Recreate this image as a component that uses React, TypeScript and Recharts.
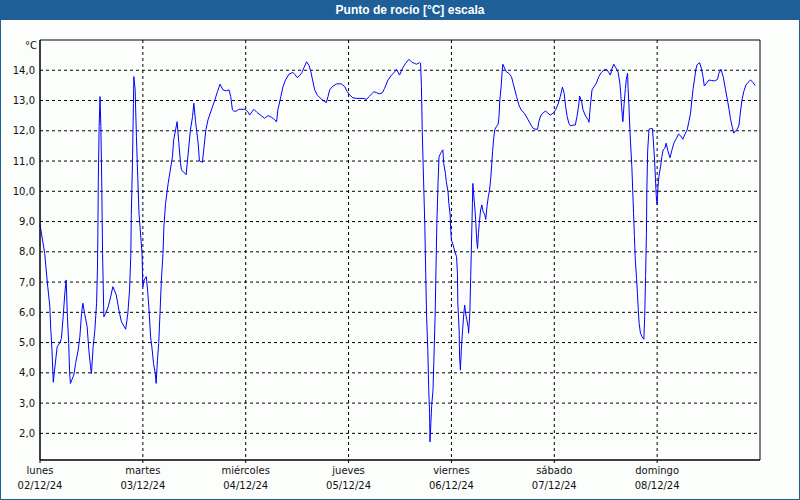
import { LineChart, Line, XAxis, YAxis, CartesianGrid, ReferenceArea } from "recharts";

const diasSemana = ["lunes", "martes", "miércoles", "jueves", "viernes", "sábado", "domingo"];
const fechas = ["02/12/24", "03/12/24", "04/12/24", "05/12/24", "06/12/24", "07/12/24", "08/12/24"];
const xTicks = [0, 24, 48, 72, 96, 120, 144];
const yTicks = [2, 3, 4, 5, 6, 7, 8, 9, 10, 11, 12, 13, 14];

// [hora del día, punto de rocío °C]
const lunes: [number, number][] = [
  [0, 8.9], [1.1, 7.95], [1.7, 7.0], [2.3, 6.18], [2.5, 5.48], [2.8, 4.75], [3.0, 4.04], [3.1, 3.69],
  [3.4, 4.09], [4.0, 4.86], [4.6, 4.98], [5.0, 5.14], [5.4, 5.85], [5.8, 6.64], [6.1, 7.07], [6.4, 5.85],
  [6.7, 4.97], [6.9, 4.04], [7.1, 3.65], [7.9, 3.93], [8.3, 4.31], [8.9, 4.75], [9.3, 5.19], [9.7, 5.97],
  [10.0, 6.3], [10.4, 5.97], [11.0, 5.52], [11.4, 4.75], [11.8, 4.2], [12.0, 3.98], [12.4, 4.86], [12.8, 5.41],
  [13.2, 6.3], [13.4, 7.4], [13.5, 8.5], [13.6, 10.3], [13.8, 12.14], [14.0, 13.13], [14.2, 12.14], [14.4, 10.37],
  [14.6, 7.95], [14.9, 5.85], [15.3, 5.97], [15.9, 6.18], [16.5, 6.52], [17.0, 6.85], [17.8, 6.57], [18.4, 6.08],
  [19.0, 5.69], [20.0, 5.44], [20.5, 5.97], [20.9, 6.74], [21.2, 7.95], [21.3, 9.2], [21.6, 11.14], [21.8, 12.9],
  [21.9, 13.79], [22.2, 13.35], [22.5, 11.8], [22.7, 10.92], [23.1, 9.27], [23.4, 8.72], [23.8, 7.95],
];
const martes: [number, number][] = [
  [0.0, 6.85], [0.3, 7.07], [0.8, 7.18], [1.1, 6.74], [1.4, 6.18], [1.8, 5.19], [2.1, 4.86], [2.5, 4.31],
  [2.9, 3.98], [3.1, 3.65], [3.4, 4.42], [3.7, 4.97], [4.0, 5.97], [4.3, 7.01], [4.7, 7.95], [4.9, 8.8],
  [5.3, 9.6], [5.9, 10.26], [6.4, 10.7], [6.9, 11.14], [7.2, 11.7], [7.7, 12.08], [8.0, 12.3], [8.4, 11.59],
  [8.8, 10.92], [9.0, 10.7], [9.8, 10.6], [10.1, 10.55], [10.5, 11.14], [11.1, 12.03], [11.6, 12.47], [11.9, 12.91],
  [12.3, 12.3], [12.9, 11.59], [13.2, 11.0], [13.9, 10.96], [14.2, 11.37], [14.7, 12.03], [15.2, 12.36], [16.0, 12.69],
  [16.8, 13.02], [17.4, 13.29], [18.0, 13.54], [18.7, 13.35], [19.5, 13.32], [20.1, 13.35], [20.5, 13.13], [20.9, 12.69],
  [21.2, 12.65], [21.8, 12.65], [22.4, 12.71], [23.8, 12.71],
];
const miercoles: [number, number][] = [
  [0.5, 12.63], [0.9, 12.52], [1.9, 12.71], [2.6, 12.61], [3.7, 12.49], [4.4, 12.41], [5.2, 12.5], [6.0, 12.45],
  [6.8, 12.36], [7.2, 12.29], [7.5, 12.69], [8.2, 13.13], [8.7, 13.46], [9.3, 13.68], [10.1, 13.87], [11.0, 13.93],
  [11.4, 13.87], [12.0, 13.76], [12.6, 13.83], [13.1, 13.92], [13.6, 14.09], [14.2, 14.28], [14.8, 14.15], [15.2, 13.95],
  [15.6, 13.68], [16.1, 13.35], [16.7, 13.18], [17.7, 13.04], [18.8, 12.93], [19.2, 13.13], [19.6, 13.35], [20.2, 13.46],
  [21.2, 13.55], [22.3, 13.55], [23.1, 13.46], [23.7, 13.29],
];
const jueves: [number, number][] = [
  [0.3, 13.18], [1.0, 13.09], [1.8, 13.07], [3.4, 13.07], [4.2, 13.04], [4.8, 13.13], [5.3, 13.21], [5.9, 13.29],
  [6.5, 13.26], [7.3, 13.22], [7.9, 13.26], [8.4, 13.4], [9.2, 13.68], [10.0, 13.84], [10.8, 13.95], [11.2, 14.03],
  [11.9, 13.84], [12.6, 14.07], [13.3, 14.23], [14.1, 14.36], [14.8, 14.26], [15.4, 14.23], [15.8, 14.2], [16.6, 14.25],
  [16.8, 14.23], [17.0, 13.46], [17.2, 11.92], [17.5, 10.37], [17.8, 8.83], [18.0, 7.29], [18.2, 5.91], [18.5, 4.7],
  [18.7, 3.49], [18.9, 2.66], [19.0, 1.72], [19.2, 2.33], [19.4, 2.93], [19.7, 3.43], [19.9, 4.42], [20.2, 5.91],
  [20.4, 7.45], [20.6, 8.94], [20.9, 10.37], [21.1, 11.14], [21.5, 11.26], [22.0, 11.37], [22.2, 10.92], [22.6, 10.59],
  [22.8, 10.32], [23.2, 9.99], [23.4, 9.6], [23.7, 9.22], [23.8, 8.83],
];
const viernes: [number, number][] = [
  [0.0, 8.39], [0.4, 8.22], [0.8, 8.0], [1.2, 7.84], [1.4, 7.29], [1.5, 6.3], [1.8, 5.41], [1.9, 4.53],
  [2.1, 4.09], [2.3, 4.75], [2.6, 5.41], [2.9, 5.97], [3.1, 6.24], [3.3, 5.97], [3.6, 5.75], [3.9, 5.52],
  [4.0, 5.31], [4.3, 5.97], [4.5, 7.18], [4.7, 8.39], [4.9, 9.6], [5.0, 10.26], [5.3, 9.71], [5.5, 9.38],
  [5.7, 8.94], [5.9, 8.39], [6.1, 8.11], [6.3, 8.61], [6.5, 8.94], [6.8, 9.38], [7.1, 9.55], [7.4, 9.33],
  [7.8, 9.22], [8.0, 9.07], [8.3, 9.49], [8.6, 9.82], [8.9, 10.04], [9.2, 10.48], [9.4, 10.87], [9.6, 11.31],
  [9.9, 11.8], [10.1, 12.03], [10.5, 12.14], [10.9, 12.22], [11.1, 12.47], [11.3, 13.02], [11.6, 13.46], [11.8, 13.9],
  [12.0, 14.2], [12.4, 14.07], [12.8, 13.95], [13.4, 13.9], [14.0, 13.79], [14.4, 13.57], [14.8, 13.35], [15.2, 13.13],
  [15.8, 12.82], [16.3, 12.69], [17.1, 12.56], [17.9, 12.36], [18.7, 12.16], [19.2, 12.06], [20.1, 12.05], [20.4, 12.3],
  [20.8, 12.49], [21.4, 12.6], [22.0, 12.65], [22.5, 12.58], [23.1, 12.52], [23.7, 12.58],
];
const sabado: [number, number][] = [
  [0.3, 12.69], [0.9, 12.89], [1.4, 13.13], [1.9, 13.44], [2.3, 13.24], [2.6, 12.85], [3.0, 12.47], [3.4, 12.25],
  [3.8, 12.16], [4.4, 12.19], [4.9, 12.19], [5.3, 12.47], [5.7, 12.85], [5.9, 13.15], [6.4, 12.96], [6.7, 12.69],
  [7.3, 12.49], [7.9, 12.36], [8.1, 12.28], [8.4, 12.8], [8.8, 13.35], [9.3, 13.46], [9.8, 13.57], [10.4, 13.79],
  [11.0, 13.93], [11.6, 14.01], [12.2, 14.03], [12.7, 13.93], [13.1, 13.84], [13.5, 14.07], [13.9, 14.2], [14.3, 14.1],
  [14.9, 13.93], [15.3, 13.57], [15.5, 13.24], [15.7, 12.8], [16.0, 12.3], [16.3, 12.91], [16.6, 13.4], [16.8, 13.7],
  [17.1, 13.9], [17.2, 13.46], [17.4, 12.91], [17.6, 12.19], [17.8, 11.59], [18.1, 10.81], [18.3, 10.04], [18.5, 9.27],
  [18.7, 8.5], [18.9, 7.73], [19.2, 7.12], [19.4, 6.63], [19.6, 6.08], [19.8, 5.64], [20.1, 5.31], [20.5, 5.19],
  [20.9, 5.11], [21.1, 5.85], [21.3, 7.18], [21.5, 8.61], [21.6, 10.04], [21.8, 11.37], [22.1, 12.05], [22.4, 12.07],
  [22.9, 12.07], [23.1, 11.7], [23.4, 11.03], [23.6, 10.43], [23.8, 9.82], [24.0, 9.55],
];
const domingo: [number, number][] = [
  [0.2, 10.15], [0.4, 10.48], [0.8, 10.81], [1.1, 11.14], [1.4, 11.37], [1.8, 11.42], [2.1, 11.59], [2.5, 11.34],
  [3.0, 11.11], [3.5, 11.39], [3.9, 11.59], [4.5, 11.75], [5.0, 11.89], [5.5, 11.83], [6.0, 11.72], [6.4, 11.86],
  [7.0, 12.03], [7.4, 12.3], [7.8, 12.58], [8.1, 13.02], [8.4, 13.4], [8.7, 13.68], [9.0, 14.01], [9.3, 14.18],
  [9.9, 14.25], [10.3, 14.07], [10.7, 13.79], [11.0, 13.48], [11.5, 13.57], [12.1, 13.68], [12.7, 13.66], [13.4, 13.65],
  [14.1, 13.7], [14.4, 13.9], [14.9, 14.03], [15.4, 13.79], [15.9, 13.4], [16.4, 13.02], [16.8, 12.69], [17.1, 12.41],
  [17.5, 12.14], [17.9, 11.92], [18.3, 12.0], [18.7, 12.05], [19.1, 12.19], [19.4, 12.58], [19.8, 13.02], [20.2, 13.29],
  [20.7, 13.51], [21.2, 13.6], [21.8, 13.68], [22.4, 13.59], [22.9, 13.49],
];

const porDia = [lunes, martes, miercoles, jueves, viernes, sabado, domingo];
const data = porDia.flatMap((dia, i) => dia.map(([h, v]) => ({ h: i * 24 + h, v })));

const FONT = "'DejaVu Sans', Verdana, sans-serif";
const AZUL = "#1e5f97";
const Y_MIN = 1.12;
const Y_MAX = 15;

const DayTick = (props: any) => {
  const { x, y, payload } = props;
  const i = Math.round(payload.value / 24);
  return (
    <text x={x} y={y} textAnchor="middle" fontSize={10} fill="#111" fontFamily={FONT}>
      <tspan x={x} dy={9}>{diasSemana[i]}</tspan>
      <tspan x={x} dy={15}>{fechas[i]}</tspan>
    </text>
  );
};

export default function App() {
  return (
    <div style={{ position: "absolute", left: 0, top: 0, width: 800, height: 500, background: "#fcfefc", overflow: "hidden" }}>
      <LineChart width={800} height={500} data={data} margin={{ top: 40, right: 40, bottom: 0, left: 0 }}>
        <CartesianGrid stroke="#000" strokeDasharray="3 3" horizontalValues={yTicks} verticalValues={xTicks.slice(1)} />
        <XAxis
          dataKey="h"
          type="number"
          domain={[0, 168]}
          ticks={xTicks}
          height={40}
          tickSize={3}
          tickMargin={2}
          stroke="#000"
          tick={<DayTick />}
          interval={0}
        />
        <YAxis
          type="number"
          domain={[Y_MIN, Y_MAX]}
          ticks={yTicks}
          width={40}
          allowDataOverflow
          tickLine={false}
          tickSize={0}
          tickMargin={5}
          stroke="#000"
          tick={{ fontSize: 10, fill: "#111", fontFamily: FONT }}
          tickFormatter={(v: number) => v.toFixed(1).replace(".", ",")}
        />
        <ReferenceArea x1={0} x2={168} y1={Y_MIN} y2={Y_MAX} fill="none" stroke="#000" strokeOpacity={1} ifOverflow="extendDomain" />
        <Line type="linear" dataKey="v" stroke="#0000ff" strokeWidth={1} dot={false} isAnimationActive={false} />
      </LineChart>
      <div
        style={{
          position: "absolute", left: 0, top: 0, width: 800, height: 20, boxSizing: "border-box", paddingLeft: 20,
          background: AZUL, color: "#fff", fontFamily: "'Liberation Sans', Arial, sans-serif", fontWeight: "bold",
          fontSize: 12, lineHeight: "20px", textAlign: "center",
        }}
      >
        Punto de rocío [°C] escala
      </div>
      <div style={{ position: "absolute", left: 22, top: 40, width: 18, textAlign: "center", fontFamily: FONT, fontSize: 10, lineHeight: "12px", color: "#111" }}>
        °C
      </div>
      <div style={{ position: "absolute", left: 0, top: 0, width: 800, height: 500, boxSizing: "border-box", border: `1px solid ${AZUL}`, pointerEvents: "none" }} />
    </div>
  );
}
